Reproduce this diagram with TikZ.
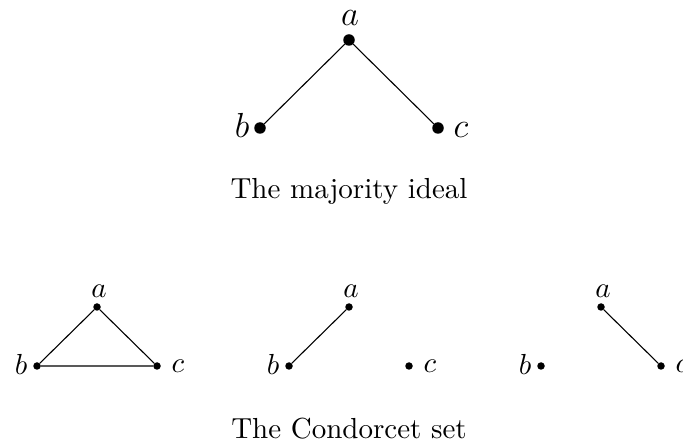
\documentclass[tikz,border=0pt]{standalone}
\begin{document}
\begin{tikzpicture}[x=1pt,y=-1pt,
  bigdot/.style={circle,fill=black,inner sep=0pt,minimum size=11.5pt},
  smalldot/.style={circle,fill=black,inner sep=0pt,minimum size=7.5pt},
  biglbl/.style={inner sep=0pt,scale=2.9,font=\large},
  smalllbl/.style={inner sep=0pt,scale=2.9},
  caption/.style={inner sep=0pt,scale=2.9,anchor=base},
  edge/.style={line width=1.1pt}]
\useasboundingbox (0,0) rectangle (683,446);
% top
\node[bigdot] (A) at (349,40) {};
\node[bigdot] (B) at (260,128) {};
\node[bigdot] (C) at (438,128) {};
\node[biglbl] (la) at (350,18) {$a$};
\node[biglbl] (lb) at (242,125) {$b$};
\node[biglbl] (lc) at (461,130) {$c$};
\draw[edge] (A) -- (B);
\draw[edge] (A) -- (C);
\node[caption] (cap1) at (349,199) {The majority ideal};
% bottom
\foreach \x/\n in {97/1,349/2,601/3}{
  \node[smalldot] (a\n) at (\x,307) {};
  \node[smalldot] (b\n) at (\x-60,366) {};
  \node[smalldot] (c\n) at (\x+60,366) {};
  \node[smalllbl] (la\n) at (\x+2,291) {$a$};
  \node[smalllbl] (lb\n) at (\x-76,364) {$b$};
  \node[smalllbl] (lc\n) at (\x+81,366) {$c$};
}
\draw[edge] (a1) -- (b1) -- (c1) -- (a1);
\draw[edge] (a2) -- (b2);
\draw[edge] (a3) -- (c3);
\node[caption] (cap2) at (349,438) {The Condorcet set};
\end{tikzpicture}
\end{document}
